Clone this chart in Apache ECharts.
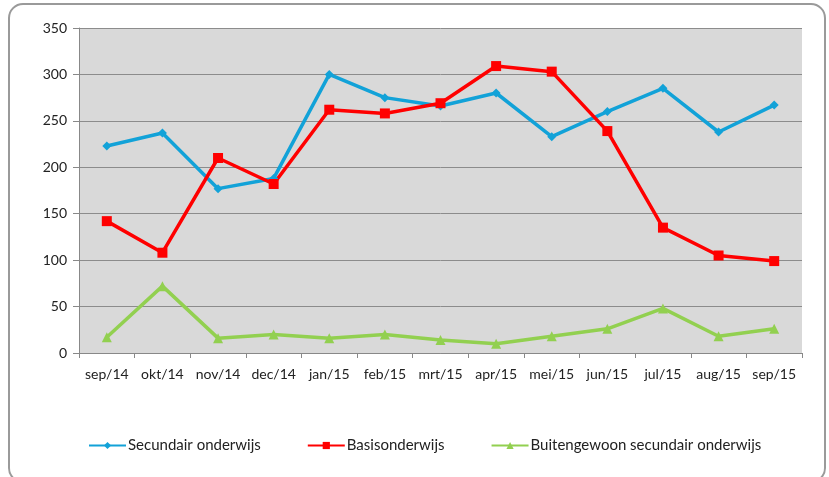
<!DOCTYPE html>
<html>
<head>
<meta charset="utf-8">
<script src="https://cdn.jsdelivr.net/npm/echarts@6/dist/echarts.min.js"></script>
<style>
  html, body { margin: 0; padding: 0; background: #fff; }
  #chart { width: 829px; height: 477px; }
</style>
</head>
<body>
<div id="chart"></div>
<script>
var months = ['sep/14', 'okt/14', 'nov/14', 'dec/14', 'jan/15', 'feb/15', 'mrt/15', 'apr/15', 'mei/15', 'jun/15', 'jul/15', 'aug/15', 'sep/15'];
var secundair = [223, 237, 177, 188, 300, 275, 266, 280, 233, 260, 285, 238, 267];
var basis = [142, 108, 210, 182, 262, 258, 269, 309, 303, 239, 135, 105, 99];
var buitengewoon = [17, 72, 16, 20, 16, 20, 14, 10, 18, 26, 48, 18, 26];

var font = 'Lato, "Open Sans", sans-serif';

var myChart = echarts.init(document.getElementById('chart'));
var option = {
    backgroundColor: '#fff',
    animation: false,
    graphic: [
        {
            type: 'rect',
            shape: { x: 9, y: 4, width: 816, height: 478, r: 14 },
            style: { fill: 'none', stroke: '#9a9a9a', lineWidth: 2 },
            z: -1
        }
    ],
    grid: {
        left: 79,
        right: 27,
        top: 28,
        bottom: 124,
        show: true,
        backgroundColor: '#d9d9d9',
        borderWidth: 0
    },
    legend: {
        top: 433,
        left: 83,
        itemGap: 46,
        itemWidth: 37,
        itemHeight: 9,
        textStyle: { fontFamily: font, fontSize: 15, color: '#222', padding: [0, 0, 0, -3] },
        data: ['Secundair onderwijs', 'Basisonderwijs', 'Buitengewoon secundair onderwijs']
    },
    xAxis: {
        type: 'category',
        data: months,
        boundaryGap: true,
        axisLine: { lineStyle: { color: '#888', width: 1 } },
        axisTick: { show: true, length: 5, lineStyle: { color: '#888' } },
        axisLabel: { fontFamily: font, fontSize: 14, color: '#222', margin: 14, interval: 0 }
    },
    yAxis: {
        type: 'value',
        min: 0,
        max: 350,
        interval: 50,
        axisLine: { show: true, lineStyle: { color: '#888' } },
        axisTick: { show: true, length: 6, lineStyle: { color: '#888' } },
        axisLabel: { fontFamily: font, fontSize: 14, color: '#222', margin: 12 },
        splitLine: { lineStyle: { color: '#8c8c8c', width: 1 } }
    },
    series: [
        {
            name: 'Secundair onderwijs',
            type: 'line',
            data: secundair,
            symbol: 'diamond',
            symbolSize: 9,
            lineStyle: { color: '#12a2d8', width: 3.5 },
            itemStyle: { color: '#12a2d8' }
        },
        {
            name: 'Basisonderwijs',
            type: 'line',
            data: basis,
            symbol: 'rect',
            symbolSize: 10,
            lineStyle: { color: '#ff0000', width: 3.5 },
            itemStyle: { color: '#ff0000' }
        },
        {
            name: 'Buitengewoon secundair onderwijs',
            type: 'line',
            data: buitengewoon,
            symbol: 'triangle',
            symbolSize: 10,
            lineStyle: { color: '#92d050', width: 3.5 },
            itemStyle: { color: '#92d050' }
        }
    ]
};
myChart.setOption(option);
</script>
</body>
</html>
